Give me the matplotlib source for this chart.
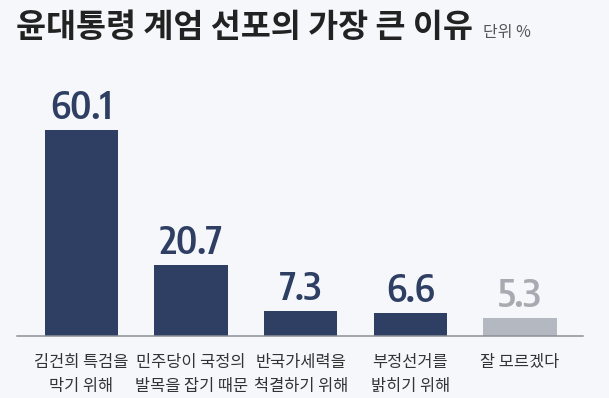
import matplotlib
matplotlib.use("Agg")
import matplotlib.pyplot as plt
import matplotlib.transforms as mtransforms
from matplotlib import font_manager
from matplotlib.textpath import TextPath

categories = ["김건희 특검을\n막기 위해", "민주당이 국정의\n발목을 잡기 때문", "반국가세력을\n척결하기 위해",
              "부정선거를\n밝히기 위해", "잘 모르겠다"]
values = [60.1, 20.7, 7.3, 6.6, 5.3]
value_labels = ["60.1", "20.7", "7.3", "6.6", "5.3"]
title = "윤대통령 계엄 선포의 가장 큰 이유"
unit = "단위 %"

NAVY = "#2E3F63"
GRAY_BAR = "#B4B8C0"
GRAY_TXT = "#A7AAB0"
BG = "#F5F7FB"
bar_colors = [NAVY, NAVY, NAVY, NAVY, GRAY_BAR]
txt_colors = [NAVY, NAVY, NAVY, NAVY, GRAY_TXT]

# choose the narrowest proportional bold sans face available for the numbers
cands = []
for f in font_manager.fontManager.ttflist:
    fn = f.fname.lower()
    nm = f.name.lower()
    isbold = f.weight in ("bold", 700, "heavy", 800, "black", 900) or "bold" in fn
    sans = ("sans" in nm or nm in ("roboto", "lato", "inter")) and "serif" not in nm.replace("sans serif", "")
    if isbold and sans and not any(k in fn or k in nm for k in ("italic", "oblique", "cjk", "mono", "math", "display")):
        cands.append(f.fname)
cands.append(font_manager.findfont(font_manager.FontProperties(family="Roboto", weight="bold")))
best, best_ratio = None, 1e9
for fname in cands:
    try:
        fp = font_manager.FontProperties(fname=fname, size=100)
        ext = TextPath((0, 0), "60.1", prop=fp).get_extents()
        h = TextPath((0, 0), "0", prop=fp).get_extents().height
        r = ext.width / h
        if h > 0 and r < best_ratio:
            best_ratio, best = r, (fname, h)
    except Exception:
        pass
target_h_px, max_w_px = 28.5, 70.0
if best is not None:
    fname, h100 = best
    size_pt = target_h_px / (h100 / 100 * 100 / 72)
    w_px = best_ratio * target_h_px
    if w_px > max_w_px:
        size_pt *= max_w_px / w_px
    num_prop = font_manager.FontProperties(fname=fname, size=size_pt)
else:
    num_prop = font_manager.FontProperties(family=["Roboto", "DejaVu Sans"], weight="bold", size=26)

KR = ["Noto Sans CJK KR", "DejaVu Sans"]

W, H = 609, 398
fig = plt.figure(figsize=(W / 100, H / 100), dpi=100, facecolor=BG)

left, right, base, top = 17, 583, 336, 80
ax = fig.add_axes([left / W, (H - base) / H, (right - left) / W, (base - top) / H])
ax.set_facecolor(BG)

px_per_unit = 3.43
spacing = 109.6
x0 = -(81.5 - left) / spacing
ax.set_xlim(x0, x0 + (right - left) / spacing)
ax.set_ylim(0, (base - top) / px_per_unit)

xs = list(range(len(values)))
ax.bar(xs, values, width=0.67, color=bar_colors, zorder=2)

for s in ["top", "right", "left"]:
    ax.spines[s].set_visible(False)
ax.spines["bottom"].set_color("#8C8F96")
ax.spines["bottom"].set_linewidth(1.1)
ax.set_xticks([])
ax.set_yticks([])

for x, v, lab, c in zip(xs, values, value_labels, txt_colors):
    ax.annotate(lab, (x, v), xytext=(0, 8), textcoords="offset points",
                ha="center", va="baseline", fontproperties=num_prop, color=c)

trans = ax.get_xaxis_transform()
for x, cat in zip(xs, categories):
    lines = cat.split("\n")
    for k, line in enumerate(lines):
        off = mtransforms.offset_copy(trans, fig=fig, x=0, y=-(26 + 24 * k), units="dots")
        ax.text(x, 0, line, transform=off, ha="center", va="center",
                fontsize=11.8, family=KR, color="#333333")

fig.text(16 / W, 1 - 27 / H, title, ha="left", va="center", fontsize=23.5,
         fontweight="bold", family=KR, color="#222222")
fig.text(483 / W, 1 - 33 / H, unit, ha="left", va="center", fontsize=11.5,
         family=KR, color="#555555")

fig.savefig("out.png", dpi=100, facecolor=BG)
